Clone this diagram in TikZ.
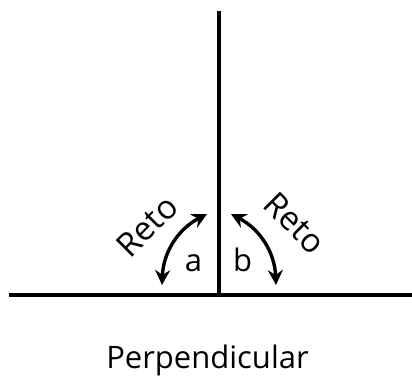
\documentclass[tikz,border=0pt]{standalone}
\usepackage{fontspec}
\setmainfont{Open Sans}
\usetikzlibrary{arrows.meta}

\begin{document}
\begin{tikzpicture}[x=1pt, y=1pt,
  ln/.style={line width=3.6pt},
  ar/.style={{Stealth[length=15pt,width=15pt,inset=5pt]}-{Stealth[length=15pt,width=15pt,inset=5pt]},
    line width=3.4pt},
  lbl/.style={font=\fontsize{31}{36}\selectfont, inner sep=0pt},
  reto/.style={font=\fontsize{33}{38}\selectfont, inner sep=0pt}
]
\useasboundingbox (0,0) rectangle (412,376);
\coordinate (o) at (219,81);
\coordinate (top) at (219,365);
\coordinate (left) at (9,81);
\coordinate (right) at (412,81);
\coordinate (a1) at (162,91);
\coordinate (a2) at (207,162);
\coordinate (b1) at (231,162);
\coordinate (b2) at (276,91);
\draw[ln] (left) -- (right);
\draw[ln] (o) -- (top);
\draw[ar] (a1) to[bend left=30] (a2);
\draw[ar] (b1) to[bend left=30] (b2);
\node[reto, rotate=45] (retoa) at (147,150) {Reto};
\node[reto, rotate=-45] (retob) at (295,153) {Reto};
\node[lbl, anchor=base] (a) at (193.5,105) {a};
\node[lbl, anchor=base] (b) at (242.5,105) {b};
\node[lbl, anchor=base] (name) at (207.5,8) {Perpendicular};
\end{tikzpicture}
\end{document}
